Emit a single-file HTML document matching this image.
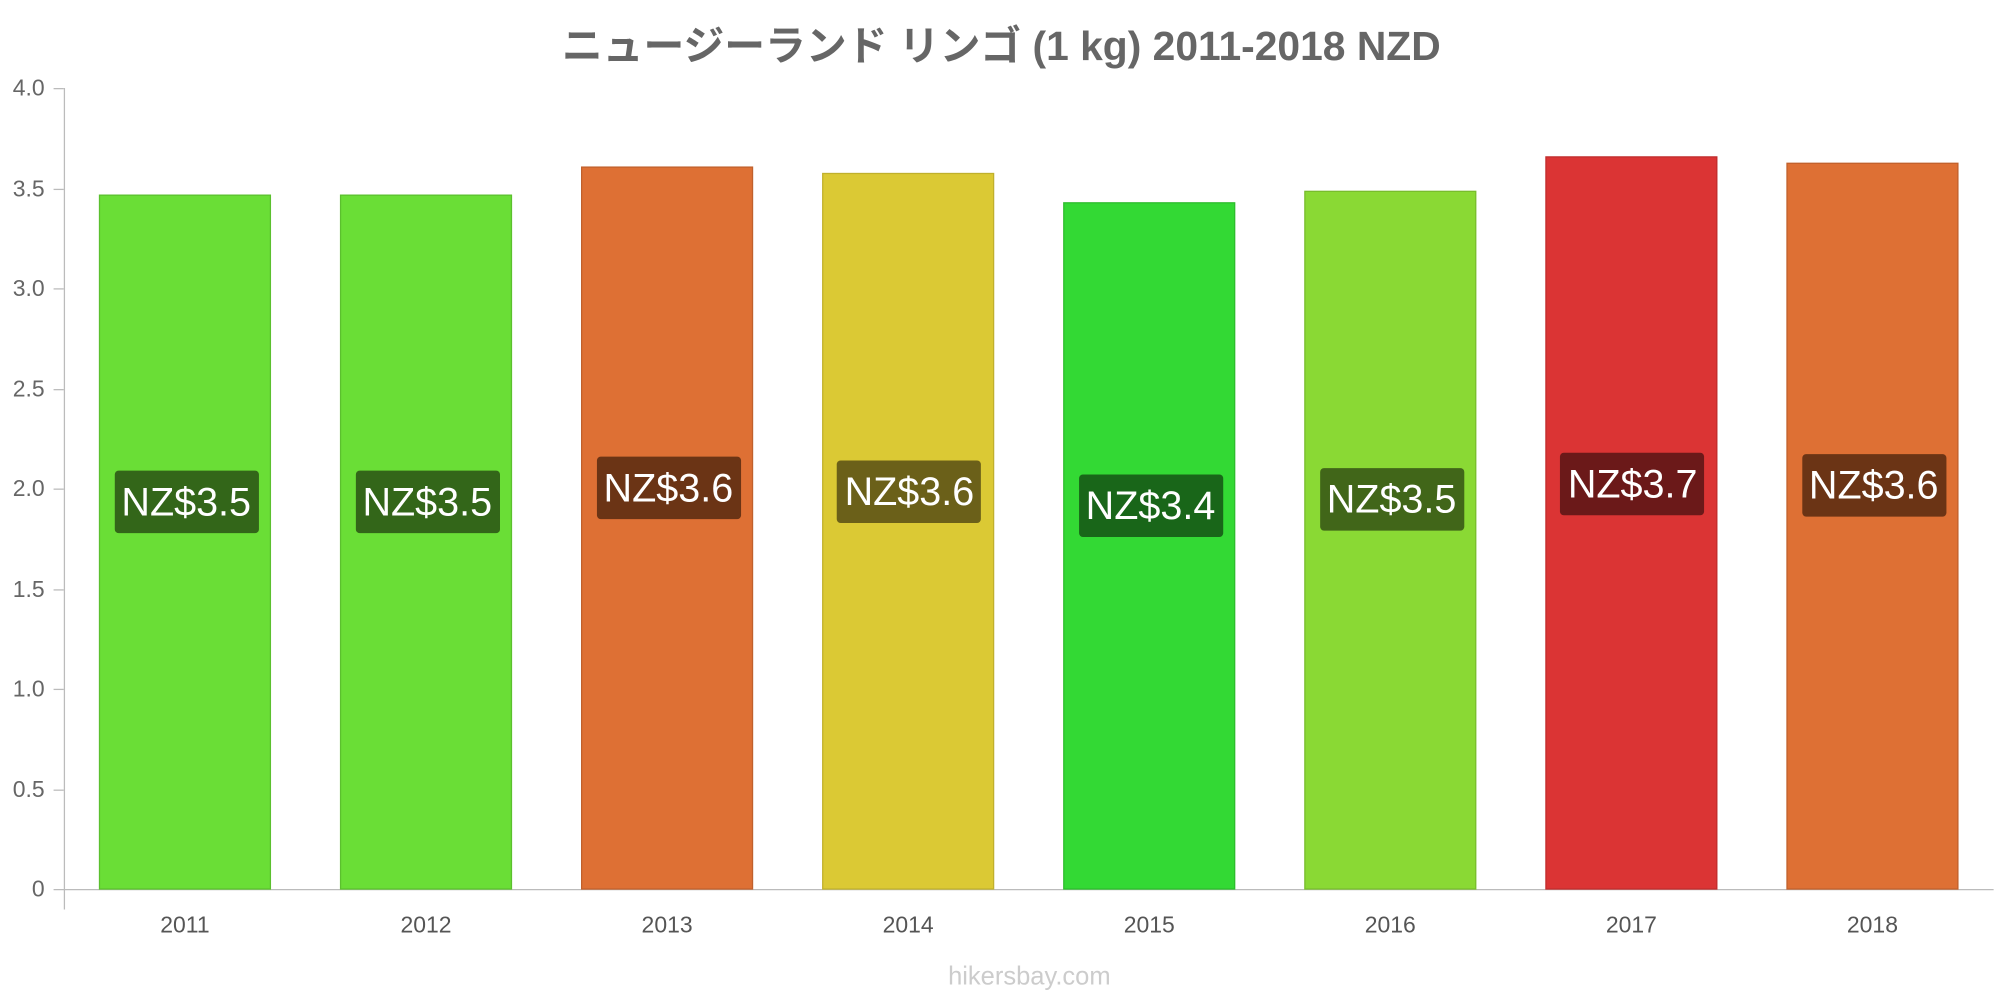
<!DOCTYPE html>
<html><head><meta charset="utf-8"><style>
html,body{margin:0;padding:0;background:#fff;}
svg{display:block;}
text{font-family:"Liberation Sans","Noto Sans CJK JP",sans-serif;}
</style></head><body>
<svg width="2000" height="1000" viewBox="0 0 1568 784" xmlns="http://www.w3.org/2000/svg">
<rect width="1568" height="784" fill="#fff"/>
<text x="785" y="47" text-anchor="middle" font-size="32" font-weight="bold" fill="#666">ニュージーランド リンゴ (1 kg) 2011-2018 NZD</text>
<g font-size="18" fill="#666" text-anchor="end">
<text x="35" y="75">4.0</text><text x="35" y="154">3.5</text><text x="35" y="232">3.0</text>
<text x="35" y="311">2.5</text><text x="35" y="389">2.0</text><text x="35" y="468">1.5</text>
<text x="35" y="546">1.0</text><text x="35" y="625">0.5</text><text x="35" y="703">0</text>
</g>
<g stroke="#bbb" stroke-width="1">
<line x1="50.5" y1="69" x2="50.5" y2="713"/>
<line x1="42" y1="697.5" x2="1563" y2="697.5"/>
<line x1="42" y1="69.5" x2="50" y2="69.5"/><line x1="42" y1="148.5" x2="50" y2="148.5"/>
<line x1="42" y1="226.5" x2="50" y2="226.5"/><line x1="42" y1="305.5" x2="50" y2="305.5"/>
<line x1="42" y1="383.5" x2="50" y2="383.5"/><line x1="42" y1="462.5" x2="50" y2="462.5"/>
<line x1="42" y1="540.5" x2="50" y2="540.5"/><line x1="42" y1="619.5" x2="50" y2="619.5"/>
</g>
<g stroke-width="1">
<rect x="78" y="153" width="134" height="544" fill="#6ade36" stroke="#5bc02e"/>
<rect x="267" y="153" width="134" height="544" fill="#6ade36" stroke="#5bc02e"/>
<rect x="456" y="131" width="134" height="566" fill="#de7034" stroke="#c0602c"/>
<rect x="645" y="136" width="134" height="561" fill="#dbc934" stroke="#c0b02c"/>
<rect x="834" y="159" width="134" height="538" fill="#33d934" stroke="#2cbc2c"/>
<rect x="1023" y="150" width="134" height="547" fill="#8ad934" stroke="#78bc2c"/>
<rect x="1212" y="123" width="134" height="574" fill="#db3434" stroke="#c02c2c"/>
<rect x="1401" y="128" width="134" height="569" fill="#de7034" stroke="#c0602c"/>
</g>
<g>
<rect x="90" y="369" width="113" height="49" rx="3" fill="#336619"/>
<rect x="279" y="369" width="113" height="49" rx="3" fill="#336619"/>
<rect x="468" y="358" width="113" height="49" rx="3" fill="#6b3415"/>
<rect x="656" y="361" width="113" height="49" rx="3" fill="#6b6019"/>
<rect x="846" y="372" width="113" height="49" rx="3" fill="#196619"/>
<rect x="1035" y="367" width="113" height="49" rx="3" fill="#416619"/>
<rect x="1223" y="355" width="113" height="49" rx="3" fill="#6b1919"/>
<rect x="1413" y="356" width="113" height="49" rx="3" fill="#6b3415"/>
</g>
<g font-size="31" fill="#fff" text-anchor="middle">
<text x="146" y="404">NZ$3.5</text><text x="335" y="404">NZ$3.5</text>
<text x="524" y="393">NZ$3.6</text><text x="713" y="396">NZ$3.6</text>
<text x="902" y="407">NZ$3.4</text><text x="1091" y="402">NZ$3.5</text>
<text x="1280" y="390">NZ$3.7</text><text x="1469" y="391">NZ$3.6</text>
</g>
<g font-size="18" fill="#555" text-anchor="middle">
<text x="145" y="731">2011</text><text x="334" y="731">2012</text><text x="523" y="731">2013</text>
<text x="712" y="731">2014</text><text x="901" y="731">2015</text><text x="1090" y="731">2016</text>
<text x="1279" y="731">2017</text><text x="1468" y="731">2018</text>
</g>
<text x="807" y="772" text-anchor="middle" font-size="20" fill="#ccc">hikersbay.com</text>
</svg>
</body></html>
